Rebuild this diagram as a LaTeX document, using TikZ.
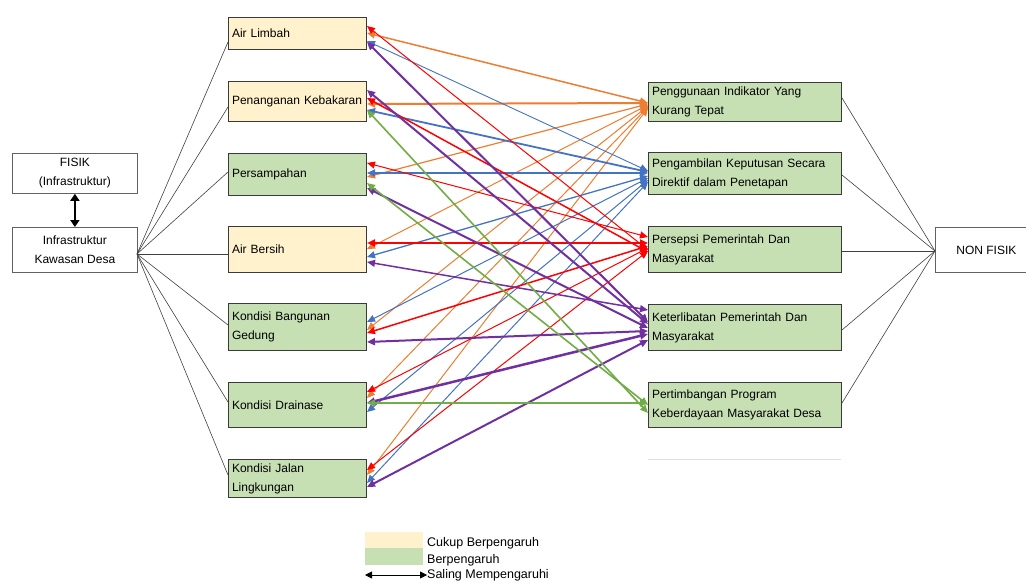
\documentclass[tikz,border=0pt]{standalone}
\usepackage{fontspec}
\setmainfont{Liberation Sans}
\usetikzlibrary{arrows.meta}
\definecolor{cream}{HTML}{FFF2CC}
\definecolor{lgreen}{HTML}{C6E0B4}
\definecolor{cOr}{HTML}{ED7D31}
\definecolor{cBl}{HTML}{4472C4}
\definecolor{cRd}{HTML}{FF0000}
\definecolor{cPu}{HTML}{7030A0}
\definecolor{cGr}{HTML}{70AD47}
\definecolor{bord}{HTML}{3A3A3A}
\hyphenpenalty=10000
\exhyphenpenalty=10000
\begin{document}
\begin{tikzpicture}[x=1pt,y=-1pt,
  box/.style={draw=bord, line width=1pt, inner xsep=3.5pt, inner ysep=0pt, anchor=north west, align=left, font=\fontsize{12}{19}\selectfont},
  mbox/.style={box, minimum width=138pt, text width=131pt},
  rbox/.style={box, minimum width=193pt, text width=186pt},
  wbox/.style={draw=bord!80, line width=0.8pt, fill=white, inner sep=0pt, anchor=north west, align=center, font=\fontsize{12}{19}\selectfont},
  link/.style={draw=black!75, line width=0.6pt},
  rel/.style={{Triangle[length=8pt,width=7pt]}-{Triangle[length=8pt,width=7pt]}, line width=#1},
  legtext/.style={anchor=west, inner sep=0pt, font=\fontsize{12.5}{14}\selectfont}
]
\useasboundingbox (0,0) rectangle (1026,583);

% left boxes
\node[wbox, minimum width=125pt, minimum height=40pt] (FI) at (12,153) {FISIK\\(Infrastruktur)};
\node[wbox, minimum width=125pt, minimum height=45pt] (IN) at (12,227) {Infrastruktur\\Kawasan Desa};
\draw[{Triangle[length=7pt,width=9pt]}-{Triangle[length=7pt,width=9pt]}, line width=1.8pt] (FI.south) -- (IN.north);

% middle boxes
\node[mbox, fill=cream, minimum height=32pt] (AL) at (228,17) {Air Limbah};
\node[mbox, fill=cream, minimum height=40pt] (PK) at (228,81) {Penanganan Kebakaran};
\node[mbox, fill=lgreen, minimum height=42pt] (PS) at (228,153) {Persampahan};
\node[mbox, fill=cream, minimum height=46pt] (AB) at (228,226) {Air Bersih};
\node[mbox, fill=lgreen, minimum height=47pt] (KB) at (228,303) {Kondisi Bangunan\\Gedung};
\node[mbox, fill=lgreen, minimum height=45pt] (KD) at (228,382) {Kondisi Drainase};
\node[mbox, fill=lgreen, minimum height=38pt] (KJ) at (228,459) {Kondisi Jalan\\Lingkungan};

% right boxes
\node[rbox, fill=lgreen, minimum height=39pt] (PI) at (648,82) {Penggunaan Indikator Yang\\Kurang Tepat};
\node[rbox, fill=lgreen, minimum height=42pt] (PKP) at (648,152) {Pengambilan Keputusan Secara\\Direktif dalam Penetapan};
\node[rbox, fill=lgreen, minimum height=46pt] (PP) at (648,226) {Persepsi Pemerintah Dan\\Masyarakat};
\node[rbox, fill=lgreen, minimum height=46pt] (KP) at (648,304) {Keterlibatan Pemerintah Dan\\Masyarakat};
\node[rbox, fill=lgreen, minimum height=45pt] (PTP) at (648,382) {Pertimbangan Program\\Keberdayaan Masyarakat Desa};
\draw[black!12, line width=1pt] (648,459) -- (841,459);

\node[wbox, minimum width=102pt, minimum height=45pt] (NF) at (935,227) {NON FISIK};

% links from Infrastruktur
\coordinate (INc) at (137,254);
\draw[link] (INc) -- (AL.west |- 0,42);
\draw[link] (INc) -- (PK.west |- 0,107);
\draw[link] (INc) -- (PS.west |- 0,172);
\draw[link] (INc) -- (AB.west |- 0,254);
\draw[link] (INc) -- (KB.west |- 0,325);
\draw[link] (INc) -- (KD.west |- 0,402);
\draw[link] (INc) -- (KJ.west |- 0,475);

% links to NON FISIK
\coordinate (NFc) at (935,251);
\draw[link] (PI.east |- 0,98) -- (NFc);
\draw[link] (PKP.east |- 0,175) -- (NFc);
\draw[link] (PP.east |- 0,251) -- (NFc);
\draw[link] (KP.east |- 0,330) -- (NFc);
\draw[link] (PTP.east |- 0,403) -- (NFc);

% orange -> Penggunaan Indikator
\draw[rel=1.5pt, cOr] (AL.east |- 0,33) -- (PI.west |- 0,103);
\draw[rel=2pt, cOr] (PK.east |- 0,104) -- (PI.west |- 0,103);
\draw[rel=1.2pt, cOr] (PS.east |- 0,177) -- (PI.west |- 0,104);
\draw[rel=1pt, cOr] (AB.east |- 0,249) -- (PI.west |- 0,105);
\draw[rel=1pt, cOr] (KB.east |- 0,330) -- (PI.west |- 0,106);
\draw[rel=1pt, cOr] (KD.east |- 0,398) -- (PI.west |- 0,107);
\draw[rel=1pt, cOr] (KJ.east |- 0,475) -- (PI.west |- 0,108);

% blue -> Pengambilan Keputusan
\draw[rel=0.9pt, cBl] (AL.east |- 0,41) -- (PKP.west |- 0,171);
\draw[rel=1.8pt, cBl] (PK.east |- 0,110) -- (PKP.west |- 0,172);
\draw[rel=1.8pt, cBl] (PS.east |- 0,173) -- (PKP.west |- 0,173);
\draw[rel=1.3pt, cBl] (AB.east |- 0,257) -- (PKP.west |- 0,176);
\draw[rel=1pt, cBl] (KB.east |- 0,322) -- (PKP.west |- 0,178);
\draw[rel=1pt, cBl] (KD.east |- 0,412) -- (PKP.west |- 0,180);
\draw[rel=1pt, cBl] (KJ.east |- 0,483) -- (PKP.west |- 0,182);

% red -> Persepsi
\draw[rel=1pt, cRd] (AL.east |- 0,26) -- (PP.west |- 0,250);
\draw[rel=1.5pt, cRd] (PK.east |- 0,98) -- (PP.west |- 0,252);
\draw[rel=1pt, cRd] (PS.east |- 0,163) -- (PP.west |- 0,237);
\draw[rel=2pt, cRd] (AB.east |- 0,243) -- (PP.west |- 0,243);
\draw[rel=1.5pt, cRd] (KB.east |- 0,333) -- (PP.west |- 0,246);
\draw[rel=1pt, cRd] (KD.east |- 0,392) -- (PP.west |- 0,248);
\draw[rel=1pt, cRd] (KJ.east |- 0,470) -- (PP.west |- 0,251);

% purple -> Keterlibatan
\draw[rel=2pt, cPu] (AL.east |- 0,42) -- (KP.west |- 0,322);
\draw[rel=2pt, cPu] (PK.east |- 0,90) -- (KP.west |- 0,324);
\draw[rel=2pt, cPu] (PS.east |- 0,188) -- (KP.west |- 0,328);
\draw[rel=1.5pt, cPu] (AB.east |- 0,262) -- (KP.west |- 0,310);
\draw[rel=2pt, cPu] (KB.east |- 0,342) -- (KP.west |- 0,331);
\draw[rel=2.5pt, cPu] (KD.east |- 0,403) -- (KP.west |- 0,334);
\draw[rel=2pt, cPu] (KJ.east |- 0,487) -- (KP.west |- 0,340);

% green -> Pertimbangan
\draw[rel=1.6pt, cGr] (PK.east |- 0,110) -- (PTP.west |- 0,413);
\draw[rel=1.6pt, cGr] (PS.east |- 0,183) -- (PTP.west |- 0,405);
\draw[rel=1.6pt, cGr] (KD.east |- 0,403) -- (PTP.west |- 0,403);

% legend
\node[fill=cream, minimum width=58pt, minimum height=16pt, inner sep=0pt, anchor=north west] (LC) at (365,532) {};
\node[fill=lgreen, minimum width=58pt, minimum height=17pt, inner sep=0pt, anchor=north west] (LG) at (365,548) {};
\node[legtext] (LT1) at (427,543) {Cukup Berpengaruh};
\node[legtext] (LT2) at (427,560) {Berpengaruh};
\node[legtext] (LT3) at (427,575) {Saling Mempengaruhi};
\coordinate (LA) at (365,575);
\draw[{Triangle[length=7pt,width=7pt]}-{Triangle[length=7pt,width=7pt]}, line width=0.8pt] (LA) -- (LT3.west |- LA);
\end{tikzpicture}
\end{document}
